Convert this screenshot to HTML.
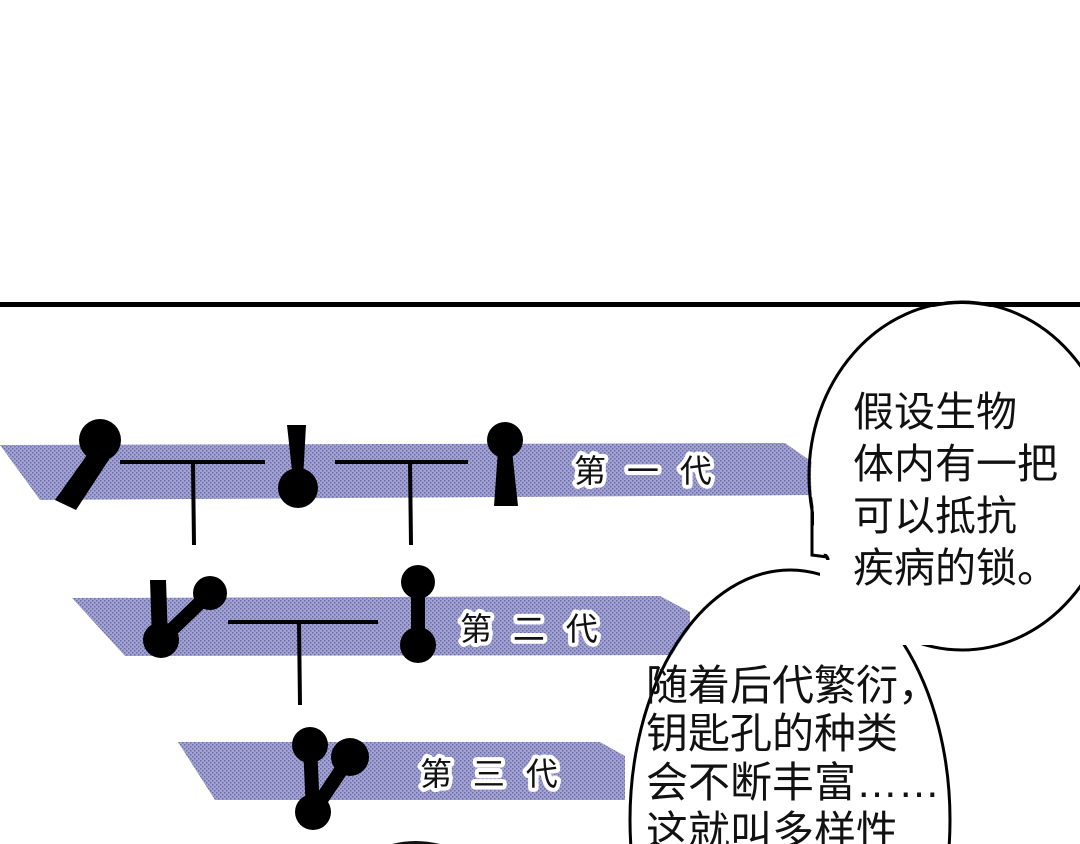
<!DOCTYPE html>
<html><head><meta charset="utf-8"><style>
html,body{margin:0;padding:0;background:#fff;overflow:hidden;width:1080px;height:844px;}
svg{display:block;}
.t{font-family:"Liberation Sans","Noto Sans CJK SC",sans-serif;fill:#111;}
.lab{font-family:"Liberation Sans","Noto Sans CJK SC",sans-serif;font-size:32px;fill:#111;stroke:#fff;stroke-width:8px;paint-order:stroke;stroke-linejoin:round;}
</style></head><body>
<svg width="1080" height="844" viewBox="0 0 1080 844" xmlns="http://www.w3.org/2000/svg">
<defs>
<pattern id="dots" width="4" height="4" patternUnits="userSpaceOnUse">
<rect width="4" height="4" fill="#a2a2da"/>
<rect x="0" y="0" width="1.5" height="1.5" fill="#6e6e96"/>
<rect x="2" y="2" width="1.5" height="1.5" fill="#6e6e96"/>
</pattern>
</defs>
<rect x="0" y="302" width="1080" height="5" fill="#000"/>
<!-- bands -->
<polygon points="0,445 785,443 812,462 812,495 40,500" fill="url(#dots)"/>
<polygon points="72,598 660,596 690,612 690,655 125,656" fill="url(#dots)"/>
<polygon points="178,742 600,742 625,756 625,800 215,800" fill="url(#dots)"/>
<!-- gen1 -->
<circle cx="100" cy="440" r="21" fill="#000"/>
<polygon points="92,448 112,455 76,510 55,500" fill="#000"/>
<line x1="120" y1="462" x2="265" y2="462" stroke="#000" stroke-width="4"/>
<line x1="193" y1="462" x2="194" y2="545" stroke="#000" stroke-width="4"/>
<circle cx="298" cy="488" r="20" fill="#000"/>
<polygon points="287,425 306,425 303,480 293,480" fill="#000"/>
<line x1="335" y1="462" x2="468" y2="462" stroke="#000" stroke-width="4"/>
<line x1="410" y1="462" x2="411" y2="545" stroke="#000" stroke-width="4"/>
<circle cx="505" cy="440" r="18" fill="#000"/>
<polygon points="498,450 512,450 518,506 494,506" fill="#000"/>
<!-- gen2 -->
<circle cx="161" cy="640" r="18" fill="#000"/>
<polygon points="150,580 166,580 168,640 152,640" fill="#000"/>
<circle cx="210" cy="593" r="17" fill="#000"/>
<line x1="210" y1="593" x2="161" y2="640" stroke="#000" stroke-width="14"/>
<line x1="228" y1="622" x2="378" y2="622" stroke="#000" stroke-width="4"/>
<line x1="299" y1="622" x2="300" y2="705" stroke="#000" stroke-width="4"/>
<circle cx="418" cy="582" r="17" fill="#000"/>
<circle cx="418" cy="645" r="18" fill="#000"/>
<line x1="418" y1="582" x2="418" y2="645" stroke="#000" stroke-width="14"/>
<!-- gen3 -->
<circle cx="310" cy="745" r="18" fill="#000"/>
<circle cx="350" cy="757" r="19" fill="#000"/>
<circle cx="313" cy="812" r="18" fill="#000"/>
<line x1="310" y1="745" x2="313" y2="812" stroke="#000" stroke-width="14"/>
<line x1="350" y1="757" x2="313" y2="812" stroke="#000" stroke-width="14"/>
<path d="M392,844 Q415,838 440,844 Z" fill="#111"/>
<!-- labels -->
<text class="lab" x="574" y="482" letter-spacing="6">第 一 代</text>
<text class="lab" x="460" y="640" letter-spacing="6">第 二 代</text>
<text class="lab" x="420" y="785" letter-spacing="6">第 三 代</text>
<!-- bubbles outline -->
<g fill="none" stroke="#000" stroke-width="3">
<ellipse cx="962" cy="476" rx="153" ry="174"/>
<path d="M812,500 L812,555 L850,560 Z"/>
<ellipse cx="790" cy="820" rx="160" ry="250"/>
</g>
<g fill="#fff">
<ellipse cx="962" cy="476" rx="151" ry="172"/>
<path d="M814,500 L814,552 L850,558 Z"/>
<ellipse cx="790" cy="820" rx="158" ry="248"/>
<rect x="820" y="560" width="140" height="85"/>
</g>
<!-- bubble text -->
<g class="t" font-size="41">
<text x="853" y="426">假设生物</text>
<text x="853" y="478">体内有一把</text>
<text x="853" y="530">可以抵抗</text>
<text x="853" y="582">疾病的锁。</text>
</g>
<g class="t" font-size="42">
<text x="646" y="700">随着后代繁衍，</text>
<text x="646" y="748">钥匙孔的种类</text>
<text x="646" y="797">会不断丰富……</text>
<text x="646" y="846">这就叫多样性</text>
</g>
</svg>
</body></html>
